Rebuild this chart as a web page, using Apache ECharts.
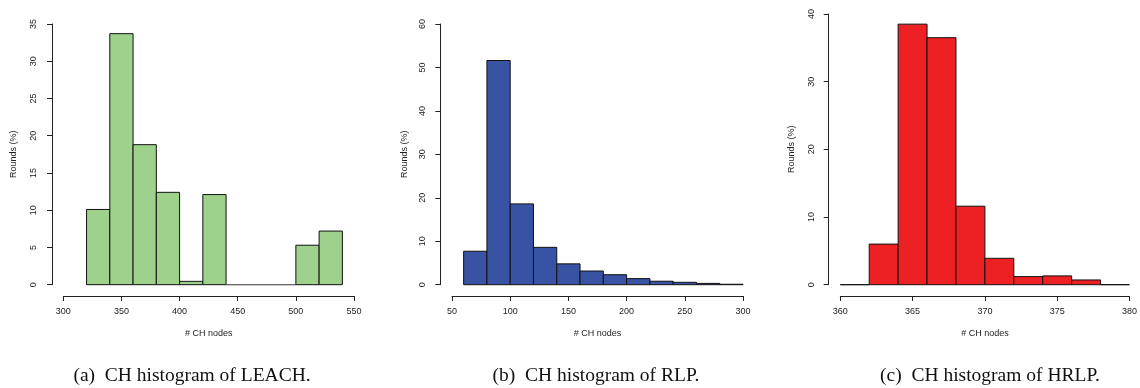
<!DOCTYPE html>
<html>
<head>
<meta charset="utf-8">
<script src="https://cdn.jsdelivr.net/npm/echarts@6/dist/echarts.min.js"></script>
<style>html,body{margin:0;padding:0;background:#fff}#c{width:1140px;height:388px}</style>
</head>
<body>
<div id="c"></div>
<script>
// Bin edges and bar heights (Rounds %)
const leachBreaks = [320, 340, 360, 380, 400, 420, 440, 460, 480, 500, 520, 540];
const leachValues = [10.1, 33.7, 18.8, 12.4, 0.45, 12.1, 0, 0, 0, 5.3, 7.2];
const rlpBreaks = [60, 80, 100, 120, 140, 160, 180, 200, 220, 240, 260, 280, 300];
const rlpValues = [7.7, 51.6, 18.6, 8.6, 4.8, 3.15, 2.3, 1.4, 0.8, 0.55, 0.3, 0.1];
const hrlpBreaks = [360, 362, 364, 366, 368, 370, 372, 374, 376, 378, 380];
const hrlpValues = [0, 6.0, 38.5, 36.5, 11.6, 3.9, 1.2, 1.3, 0.7, 0];
const captions = ['(a)  CH histogram of LEACH.', '(b)  CH histogram of RLP.', '(c)  CH histogram of HRLP.'];
const xName = '# CH nodes';
const yName = 'Rounds (%)';

function toBins(breaks, values) {
  return values.map((v, i) => [breaks[i], breaks[i + 1], v]);
}

const chart = echarts.init(document.getElementById('c'), null, {renderer: 'canvas'});
const axisFont = {fontFamily: 'Liberation Sans, Arial, sans-serif', fontSize: 9, color: '#222'};

const panels = [
  {grid: {left: 63.3, width: 290.7, top: 24, bottom: 103.3}, x: [300, 550, 50], y: [0, 35, 5], yGap: 34, yMargin: 14, fill: '#9ED18C', data: toBins(leachBreaks, leachValues), yOff: 11.3},
  {grid: {left: 452, width: 291, top: 24, bottom: 103.3}, x: [50, 300, 50], y: [0, 60, 10], yGap: 31, yMargin: 13, fill: '#3853A4', data: toBins(rlpBreaks, rlpValues), yOff: 11.7},
  {grid: {left: 840.3, width: 291.4, top: 14, bottom: 103.3}, x: [360, 380, 5], y: [0, 40, 10], yGap: 32.5, yMargin: 12.5, fill: '#ED2024', data: toBins(hrlpBreaks, hrlpValues), yOff: 11.6}
];

const option = {
  animation: false,
  backgroundColor: '#fff',
  grid: panels.map(p => p.grid),
  xAxis: panels.map((p, i) => ({
    type: 'value', gridIndex: i, min: p.x[0], max: p.x[1], interval: p.x[2],
    offset: 11.3,
    name: xName, nameLocation: 'middle', nameGap: 33,
    nameTextStyle: axisFont,
    axisLine: {show: true, onZero: false, lineStyle: {color: '#222', width: 1}},
    axisTick: {show: true, length: 5, lineStyle: {color: '#222'}},
    axisLabel: Object.assign({margin: 11}, axisFont),
    splitLine: {show: false}
  })),
  yAxis: panels.map((p, i) => ({
    type: 'value', gridIndex: i, min: p.y[0], max: p.y[1], interval: p.y[2],
    offset: p.yOff,
    name: yName, nameLocation: 'middle', nameGap: p.yGap, nameRotate: 90,
    nameTextStyle: axisFont,
    axisLine: {show: true, onZero: false, lineStyle: {color: '#222', width: 1}},
    axisTick: {show: true, length: 5, lineStyle: {color: '#222'}},
    axisLabel: Object.assign({margin: p.yMargin, rotate: 90}, axisFont),
    splitLine: {show: false}
  })),
  series: panels.map((p, i) => ({
    type: 'custom', xAxisIndex: i, yAxisIndex: i, clip: false,
    data: p.data,
    encode: {x: [0, 1], y: 2},
    renderItem: function (params, api) {
      const a = api.coord([api.value(0), 0]);
      const b = api.coord([api.value(1), api.value(2)]);
      const empty = api.value(2) === 0;
      return {
        type: 'rect',
        shape: {x: a[0], y: b[1], width: b[0] - a[0], height: a[1] - b[1]},
        style: {fill: p.fill, stroke: empty && i === 0 ? '#666' : '#111', lineWidth: 1}
      };
    }
  })),
  graphic: captions.map((t, i) => ({
    type: 'text', x: [192, 596, 990][i], y: 376,
    style: {text: t, fontSize: 19.5, fontFamily: 'Liberation Serif, Times New Roman, serif', fill: '#111', align: 'center', verticalAlign: 'middle'}
  }))
};
chart.setOption(option);
</script>
</body>
</html>
